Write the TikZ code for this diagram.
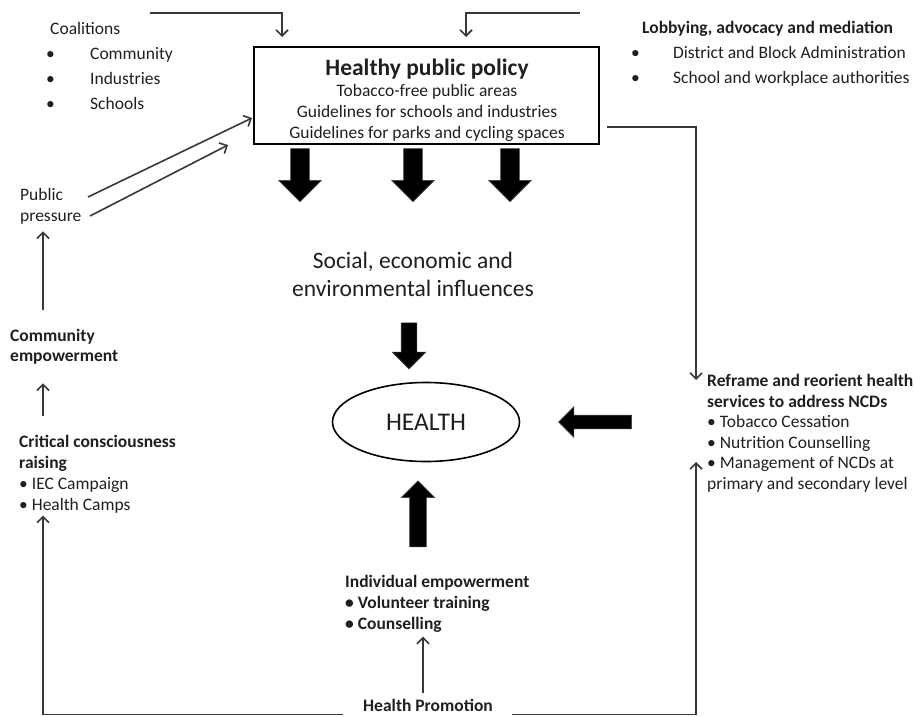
\documentclass[tikz,border=0pt]{standalone}
\usepackage{fontspec}
\setmainfont{Carlito}
\usetikzlibrary{arrows.meta,shapes.arrows,shapes.geometric}
\definecolor{txt}{gray}{0.12}
\definecolor{ln}{gray}{0.22}
\newcommand{\fs}[2]{\fontsize{#1}{#2}\selectfont}
\newcommand{\bul}[1]{\hspace*{-4pt}\makebox[44pt][l]{\textbullet}#1}
\newcommand{\rbul}[1]{\hspace*{-3pt}\makebox[42pt][l]{\textbullet}#1}

\begin{document}
\begin{tikzpicture}[x=1pt, y=-1pt, >={Straight Barb[length=6pt,width=12pt]},
  txtnode/.style={inner sep=0pt, align=left, anchor=north west, text=txt},
  conn/.style={->, draw=ln, line width=1.6pt},
  blockarrow/.style={single arrow, fill=black, draw=black!75, line width=0.6pt,
    single arrow tip angle=90, anchor=center}]

\useasboundingbox (0,0) rectangle (915,717);

% Healthy public policy box
\node[draw=black, line width=2.6pt, minimum width=345, minimum height=97, inner sep=0pt,
  align=center, text=txt, font=\fs{17.5}{21}] (policy) at (426.5,95.5) {};
\node[inner sep=0pt, align=center, text=txt, font=\fs{17.5}{21}] (poltext) at (427,100)
  {{\fs{23.5}{21}\bfseries Healthy public policy}\\
   Tobacco-free public areas\\
   Guidelines for schools and industries\\
   Guidelines for parks and cycling spaces};

% Text blocks
\node[txtnode, font=\fs{17.5}{25}] (coal) at (50,22)
  {Coalitions\\ \bul{Community}\\ \bul{Industries}\\ \bul{Schools}};
\node[txtnode, font=\fs{17.5}{25}] (lobby) at (634,21)
  {\hspace*{8pt}\textbf{Lobbying, advocacy and mediation}\\
   \rbul{District and Block Administration}\\
   \rbul{School and workplace authorities}};
\node[txtnode, font=\fs{17.5}{21}] (pp) at (20,188) {Public\\pressure};
\node[txtnode, font=\fs{17.5}{20}\bfseries] (cemp) at (10,329) {Community\\empowerment};
\node[txtnode, font=\fs{17.5}{21}] (crit) at (19,435)
  {\textbf{Critical consciousness}\\ \textbf{raising}\\
   \textbullet{} IEC Campaign\\ \textbullet{} Health Camps};
\node[txtnode, font=\fs{17.5}{20.6}] (rframe) at (707,374)
  {\textbf{Reframe and reorient health}\\ \textbf{services to address NCDs}\\
   \textbullet{} Tobacco Cessation\\ \textbullet{} Nutrition Counselling\\
   \textbullet{} Management of NCDs at\\ primary and secondary level};
\node[txtnode, font=\fs{17.5}{21}\bfseries] (indiv) at (345,575)
  {Individual empowerment\\ \textbullet{} Volunteer training\\ \textbullet{} Counselling};
\node[txtnode, font=\fs{17.5}{21}\bfseries] (hp) at (363,699) {Health Promotion};
\node[inner sep=0pt, align=center, text=txt, font=\fs{23.5}{28}] (soc) at (413,274)
  {Social, economic and\\ environmental influences};

% HEALTH
\node[draw=black, line width=1.6pt, ellipse, minimum width=187, minimum height=79,
  inner sep=0pt, text=txt, font=\fs{25.5}{28}] (health) at (426,422) {HEALTH};

% Block arrows
\foreach \ax/\an in {300/pa1, 413/pa2, 510/pa3} {
  \node[blockarrow, shape border rotate=270, inner sep=9pt, single arrow head extend=12pt,
    minimum height=53] (\an) at (\ax,170.5) {};
}
\node[blockarrow, shape border rotate=270, inner sep=7.5pt, single arrow head extend=9pt,
  minimum height=46] (sa) at (409,342) {};
\node[blockarrow, shape border rotate=180, inner sep=6.5pt, single arrow head extend=8.5pt,
  minimum height=73] (ra) at (598.5,422) {};
\node[blockarrow, shape border rotate=90, inner sep=8pt, single arrow head extend=8.5pt,
  minimum height=66] (ia) at (418,518) {};

% Free ends of connectors
\coordinate (lx) at (43,0);
\coordinate (coalin) at (150,13);
\coordinate (polin1) at (282,37);
\coordinate (lobin) at (580,13);
\coordinate (polin2) at (466,37);
\coordinate (polout) at (607,127);
\coordinate (rfin) at (696,380);
\coordinate (rfin2) at (696,462);
\coordinate (pp1s) at (88,197);
\coordinate (pp1e) at (252,118);
\coordinate (pp2s) at (90,216);
\coordinate (pp2e) at (228,145);
\coordinate (hpl) at ([xshift=-20pt,yshift=-3pt]hp.base west);
\coordinate (hpr) at ([xshift=19pt,yshift=-3pt]hp.base east);
\coordinate (hpup) at ([xshift=-5pt]hp.north);

% Connectors
\draw[conn] (coalin) -| (polin1);
\draw[conn] (lobin) -| (polin2);
\draw[conn] (polout) -| (rfin);
\draw[conn] (pp1s) -- (pp1e);
\draw[conn] (pp2s) -- (pp2e);
\draw[conn, shorten <=19pt, shorten >=7pt] (cemp.north -| lx) -- (pp.south -| lx);
\draw[conn, shorten <=19pt, shorten >=19pt] (crit.north -| lx) -- (cemp.south -| lx);
\draw[conn, shorten >=2pt] (hpl) -| (crit.south -| lx);
\draw[conn] (hpr) -| (rfin2);
\draw[conn, shorten <=6pt, shorten >=4pt] (hpup) -- (hpup |- indiv.south);

\end{tikzpicture}
\end{document}
